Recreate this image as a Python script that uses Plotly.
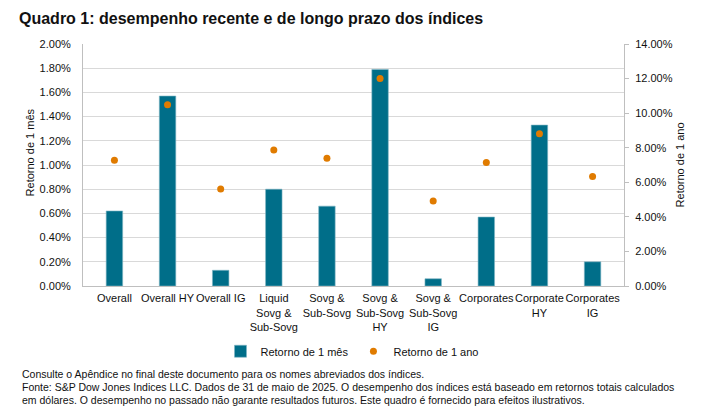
import plotly.graph_objects as go

categories = ["Overall", "Overall HY", "Overall IG", "Liquid<br>Sovg &<br>Sub-Sovg",
              "Sovg &<br>Sub-Sovg", "Sovg &<br>Sub-Sovg<br>HY", "Sovg &<br>Sub-Sovg<br>IG",
              "Corporates", "Corporate<br>HY", "Corporates<br>IG"]
ret_1m = [0.62, 1.57, 0.13, 0.80, 0.66, 1.79, 0.06, 0.57, 1.33, 0.20]
ret_1y = [7.27, 10.49, 5.61, 7.87, 7.39, 12.00, 4.92, 7.14, 8.81, 6.33]
left_ticks = [0, 0.2, 0.4, 0.6, 0.8, 1.0, 1.2, 1.4, 1.6, 1.8, 2.0]
right_ticks = [0, 2, 4, 6, 8, 10, 12, 14]

FONT = "Liberation Sans, Arial, sans-serif"
OFF = 8  # page body margin
W, H = 707 - OFF, 415 - OFF
# plot area in reference (page) coordinates
PX0, PX1, PY0, PY1 = 83, 624, 43.5, 285.7
L = PX0 - OFF
R = W - (PX1 - OFF)
T = PY0 - OFF
B = H - (PY1 - OFF)
pw = PX1 - PX0
ph = PY1 - PY0


def px_x(x):
    return (x - PX0) / pw


def px_y(y):
    return (PY1 - y) / ph


fig = go.Figure()
fig.add_trace(go.Bar(
    x=categories, y=ret_1m, name="Retorno de 1 mês",
    marker=dict(color="#006E89", line=dict(color="#7FB6C4", width=0.6)),
    yaxis="y",
))
fig.add_trace(go.Scatter(
    x=categories, y=ret_1y, name="Retorno de 1 ano", mode="markers",
    marker=dict(color="#E07B00", size=7, symbol="circle"),
    yaxis="y2",
))

fig.update_layout(
    width=W, height=H,
    margin=dict(l=L, r=R, t=T, b=B, pad=0, autoexpand=False),
    paper_bgcolor="white", plot_bgcolor="white",
    font=dict(family=FONT, size=11, color="#111111"),
    bargap=0.69,
    showlegend=True,
    legend=dict(orientation="h", x=px_x(352), xanchor="center", y=px_y(351), yanchor="middle",
                font=dict(size=11, color="#111111"), itemwidth=30, tracegroupgap=0,
                bgcolor="rgba(0,0,0,0)"),
    xaxis=dict(showgrid=False, showline=True, linecolor="#BFBFBF", linewidth=1,
               ticks="", tickfont=dict(size=11), tickangle=0, fixedrange=True,
               ticklabelstandoff=2),
    yaxis=dict(range=[0, 2.0], tickvals=left_ticks, ticktext=[f"{v:.2f}%" for v in left_ticks],
               showgrid=True, gridcolor="#D9D9D9", gridwidth=1, zeroline=False,
               showline=True, linecolor="#BFBFBF", linewidth=1, ticks="",
               tickfont=dict(size=11), ticklabelstandoff=9),
    yaxis2=dict(range=[0, 14], tickvals=right_ticks, ticktext=[f"{v:.2f}%" for v in right_ticks],
                overlaying="y", side="right", showgrid=False, zeroline=False,
                showline=True, linecolor="#BFBFBF", linewidth=1,
                ticks="outside", ticklen=4, tickcolor="#BFBFBF", tickfont=dict(size=11),
                ticklabelstandoff=4),
    annotations=[
        dict(text="<b>Quadro 1: desempenho recente e de longo prazo dos índices</b>",
             xref="paper", yref="paper", x=px_x(17), y=px_y(18), xanchor="left", yanchor="middle",
             showarrow=False, font=dict(size=16, color="#111111", family=FONT)),
        dict(text="Retorno de 1 mês", textangle=-90,
             xref="paper", yref="paper", x=px_x(30), y=px_y(152), xanchor="center", yanchor="middle",
             showarrow=False, font=dict(size=11, color="#111111")),
        dict(text="Retorno de 1 ano", textangle=-90,
             xref="paper", yref="paper", x=px_x(680), y=px_y(165), xanchor="center", yanchor="middle",
             showarrow=False, font=dict(size=11, color="#111111")),
        dict(text="Consulte o Apêndice no final deste documento para os nomes abreviados dos índices.",
             xref="paper", yref="paper", x=px_x(20), y=px_y(374), xanchor="left", yanchor="middle",
             showarrow=False, font=dict(size=10.5, color="#111111")),
        dict(text="Fonte: S&P Dow Jones Indices LLC. Dados de 31 de maio de 2025. O desempenho dos índices está baseado em retornos totais calculados",
             xref="paper", yref="paper", x=px_x(20), y=px_y(387), xanchor="left", yanchor="middle",
             showarrow=False, font=dict(size=10.5, color="#111111")),
        dict(text="em dólares. O desempenho no passado não garante resultados futuros. Este quadro é fornecido para efeitos ilustrativos.",
             xref="paper", yref="paper", x=px_x(20), y=px_y(400), xanchor="left", yanchor="middle",
             showarrow=False, font=dict(size=10.5, color="#111111")),
    ],
)

fig.write_html("out.html", config={"displayModeBar": False})
